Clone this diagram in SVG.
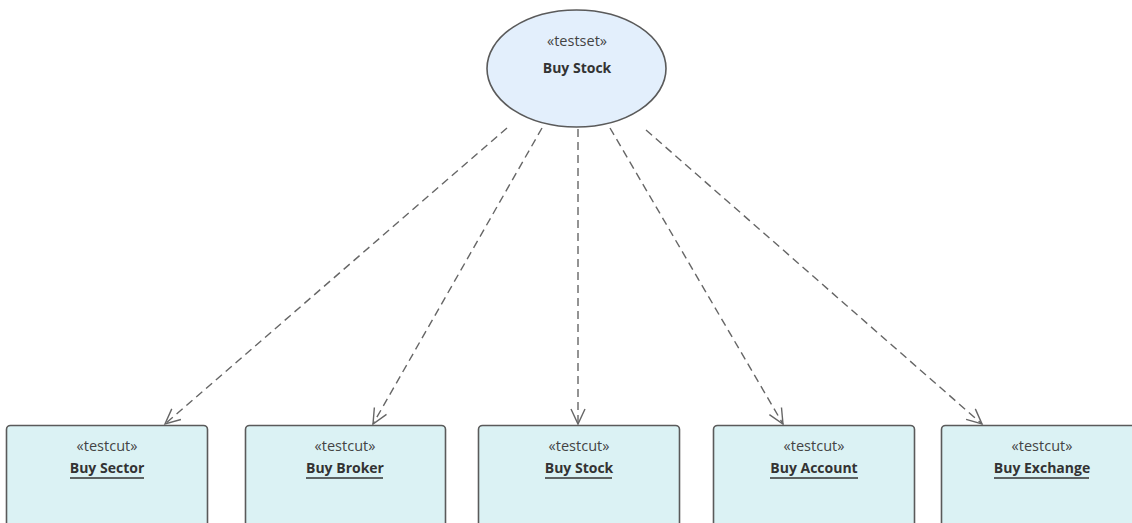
<svg xmlns="http://www.w3.org/2000/svg" width="1132" height="523" viewBox="0 0 1132 523">
<style>
.ell{fill:#e3effc;stroke:#5a5a5a;stroke-width:1.6}
.box{fill:#dbf2f4;stroke:#5a5a5a;stroke-width:1.6}
.st{font-family:"Open Sans","Liberation Sans",Arial,sans-serif;font-size:14.5px;fill:#444;text-anchor:middle}
.nm{font-family:"Open Sans","Liberation Sans",Arial,sans-serif;font-size:14px;font-weight:bold;fill:#333;text-anchor:middle}
.ul{stroke:#333;stroke-width:1.6}
.con{fill:none;stroke:#666;stroke-width:1.4;stroke-dasharray:8,5}
.ah{fill:none;stroke:#666;stroke-width:1.4}
</style>
<defs>
<marker id="open" markerWidth="20" markerHeight="20" refX="16" refY="8" orient="auto" markerUnits="userSpaceOnUse">
<path d="M1,1 L16,8 L1,15" class="ah"/>
</marker>
</defs>
<rect width="1132" height="523" fill="#ffffff"/>
<g id="connectors">
<line class="con" x1="507" y1="128" x2="165" y2="424" marker-end="url(#open)"/>
<line class="con" x1="542" y1="128" x2="373" y2="424" marker-end="url(#open)"/>
<line class="con" x1="578" y1="129" x2="578" y2="424" marker-end="url(#open)"/>
<line class="con" x1="610" y1="128" x2="783" y2="424" marker-end="url(#open)"/>
<line class="con" x1="646" y1="130" x2="982" y2="424" marker-end="url(#open)"/>
</g>
<g id="testset-buy-stock">
<ellipse class="ell" cx="576.5" cy="68.5" rx="89.5" ry="58.5"/>
<text class="st" x="577" y="46">«testset»</text>
<text class="nm" x="577" y="73">Buy Stock</text>
</g>
<g id="buy-sector">
<rect class="box" x="6.5" y="425.5" width="201" height="110" rx="4"/>
<text class="st" x="107" y="451">«testcut»</text>
<text class="nm" x="107" y="473">Buy Sector</text>
<line class="ul" x1="70" y1="478" x2="144" y2="478"/>
</g>
<g id="buy-broker">
<rect class="box" x="245.5" y="425.5" width="200" height="110" rx="4"/>
<text class="st" x="345" y="451">«testcut»</text>
<text class="nm" x="345" y="473">Buy Broker</text>
<line class="ul" x1="306" y1="478" x2="383" y2="478"/>
</g>
<g id="buy-stock">
<rect class="box" x="478.5" y="425.5" width="201" height="110" rx="4"/>
<text class="st" x="579" y="451">«testcut»</text>
<text class="nm" x="579" y="473">Buy Stock</text>
<line class="ul" x1="545" y1="478" x2="612" y2="478"/>
</g>
<g id="buy-account">
<rect class="box" x="713.5" y="425.5" width="201" height="110" rx="4"/>
<text class="st" x="814" y="451">«testcut»</text>
<text class="nm" x="814" y="473">Buy Account</text>
<line class="ul" x1="770" y1="478" x2="858" y2="478"/>
</g>
<g id="buy-exchange">
<rect class="box" x="941.5" y="425.5" width="201" height="110" rx="4"/>
<text class="st" x="1042" y="451">«testcut»</text>
<text class="nm" x="1042" y="473">Buy Exchange</text>
<line class="ul" x1="994" y1="478" x2="1089" y2="478"/>
</g>
</svg>
